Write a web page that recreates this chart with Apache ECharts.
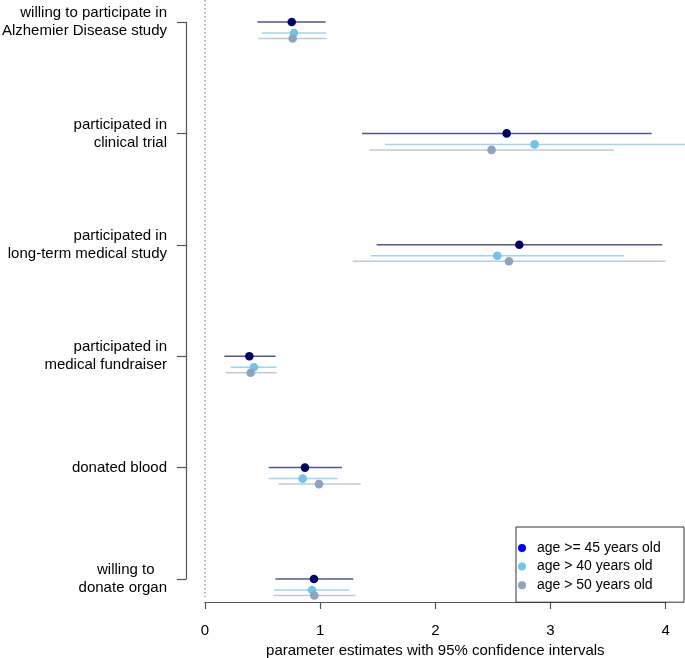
<!DOCTYPE html>
<html>
<head>
<meta charset="utf-8">
<script src="https://cdn.jsdelivr.net/npm/echarts@6/dist/echarts.min.js"></script>
<style>html,body{margin:0;padding:0;background:#fff}#c{width:685px;height:658px}</style>
</head>
<body>
<div id="c"></div>
<script>
const categories = [
  'willing to participate in\nAlzhemier Disease study',
  'participated in\nclinical trial',
  'participated in\nlong-term medical study',
  'participated in\nmedical fundraiser',
  'donated blood',
  'willing to   \ndonate organ'
];
const seriesNames = ['age >= 45 years old', 'age > 40 years old', 'age > 50 years old'];

const est45 = [0.753, 2.619, 2.729, 0.385, 0.868, 0.946];
const lo45  = [0.454, 1.363, 1.490, 0.168, 0.553, 0.611];
const hi45  = [1.047, 3.878, 3.970, 0.613, 1.189, 1.288];

const est40 = [0.773, 2.862, 2.538, 0.425, 0.848, 0.929];
const lo40  = [0.492, 1.563, 1.438, 0.223, 0.553, 0.599];
const hi40  = [1.050, 4.300, 3.640, 0.622, 1.149, 1.253];

const est50 = [0.761, 2.488, 2.639, 0.396, 0.990, 0.949];
const lo50  = [0.463, 1.426, 1.282, 0.182, 0.637, 0.593];
const hi50  = [1.056, 3.550, 3.999, 0.622, 1.351, 1.305];

const xTicks = [0, 1, 2, 3, 4];

const dotColors  = ['#000066', '#6EC5E9', '#8DA3C0'];
const lineColors = ['#55558f', '#9dd6ee', '#bccadb'];
const legendColors = ['#0000FF', '#6EC5E9', '#8DA3C0'];
const yOffsets = [0, 11, 16.5];

const FONT = '"Liberation Sans", Arial, sans-serif';

function buildData(lo, est, hi) {
  return categories.map((c, i) => [i, lo[i], est[i], hi[i]]);
}
const groups = [[lo45, est45, hi45], [lo40, est40, hi40], [lo50, est50, hi50]];

function makeRender(k) {
  return function (params, api) {
    const ci = api.value(0);
    const pLo = api.coord([api.value(1), ci]);
    const pEst = api.coord([api.value(2), ci]);
    const pHi = api.coord([api.value(3), ci]);
    const dy = yOffsets[k];
    return {
      type: 'group',
      children: [
        { type: 'line', shape: { x1: pLo[0], y1: pLo[1] + dy, x2: pHi[0], y2: pHi[1] + dy },
          style: { stroke: lineColors[k], lineWidth: 1.5 } },
        { type: 'circle', shape: { cx: pEst[0], cy: pEst[1] + dy, r: 4.3 },
          style: { fill: dotColors[k] } }
      ]
    };
  };
}

const series = groups.map((g, k) => ({
  type: 'custom',
  name: seriesNames[k],
  renderItem: makeRender(k),
  data: buildData(g[0], g[1], g[2]),
  encode: { x: [1, 2, 3], y: 0 },
  itemStyle: { color: dotColors[k] },
  clip: false,
  z: 3 + k
}));

// dotted reference line at x = 0
series.unshift({
  type: 'custom',
  name: 'ref',
  silent: true,
  clip: false,
  renderItem: function (params, api) {
    const p = api.coord([api.value(0), 0]);
    const cs = params.coordSys;
    return { type: 'line',
      shape: { x1: p[0], y1: cs.y - 22, x2: p[0], y2: cs.y + cs.height + 18 },
      style: { stroke: '#9a9a9a', lineWidth: 1.5, lineDash: [1.5, 2.5] } };
  },
  data: [[0]],
  encode: { x: 0 },
  z: 1
});

const chart = echarts.init(document.getElementById('c'), null, { renderer: 'canvas' });
chart.setOption({
  animation: false,
  backgroundColor: '#ffffff',
  textStyle: { fontFamily: FONT },
  grid: { left: 205, right: 19.3, top: 22, bottom: 79, containLabel: false, outerBoundsMode: 'none' },
  xAxis: {
    type: 'value',
    min: xTicks[0], max: xTicks[xTicks.length - 1], interval: 1,
    offset: 23,
    axisLine: { show: true, onZero: false, lineStyle: { color: '#555', width: 1.2 } },
    axisTick: { show: true, length: 7, lineStyle: { color: '#555', width: 1.2 } },
    axisLabel: { color: '#000', fontSize: 15, margin: 21, fontFamily: FONT },
    splitLine: { show: false },
    name: 'parameter estimates with 95% confidence intervals',
    nameLocation: 'middle',
    nameGap: 37,
    nameTextStyle: { color: '#000', fontSize: 15, fontFamily: FONT, verticalAlign: 'top' }
  },
  yAxis: {
    type: 'category',
    data: categories,
    inverse: true,
    boundaryGap: false,
    offset: 19,
    axisLine: { show: true, onZero: false, lineStyle: { color: '#555', width: 1.2 } },
    axisTick: { show: true, length: 9, lineStyle: { color: '#555', width: 1.2 } },
    axisLabel: { color: '#000', fontSize: 15, lineHeight: 18, margin: 19, fontFamily: FONT, align: 'right', padding: [2, 0, 0, 0] },
    splitLine: { show: false }
  },
  legend: {
    orient: 'vertical',
    left: 516,
    top: 527,
    padding: [14, 16, 10, 2],
    itemWidth: 20,
    itemHeight: 8,
    itemGap: 4.6,
    borderColor: '#333',
    borderWidth: 1,
    borderRadius: 0,
    icon: 'circle',
    data: seriesNames.map((n, k) => ({ name: n, itemStyle: { color: legendColors[k] } })),
    textStyle: { fontSize: 14, lineHeight: 14, color: '#000', fontFamily: FONT, width: 131 }
  },
  series: series
});
</script>
</body>
</html>
